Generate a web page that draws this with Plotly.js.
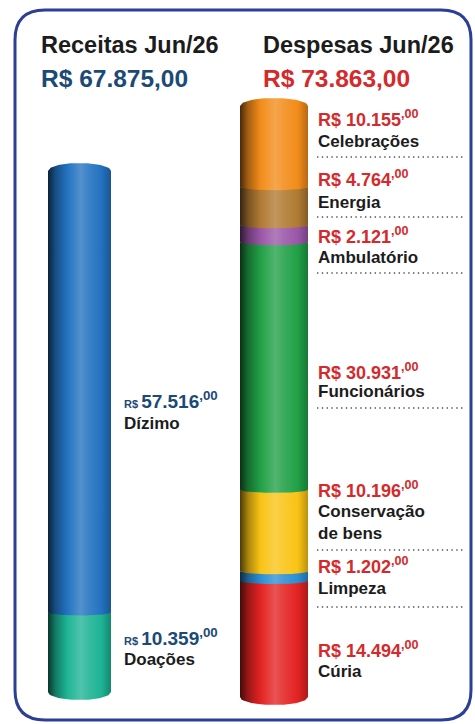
<!DOCTYPE html>
<html><head><meta charset="utf-8">
<script src="https://cdn.plot.ly/plotly-3.0.1.min.js"></script>
<style>html,body{margin:0;padding:0;background:#fff}</style>
</head><body><div id="chart" style="width:475px;height:724px"></div>
<script>
// ---------------- data ----------------
const receitasTitle = 'Receitas Jun/26';
const despesasTitle = 'Despesas Jun/26';
const receitasCats = ['Dízimo', 'Doações'];
const receitasVals = [57516, 10359];
const despesasCats = ['Celebrações', 'Energia', 'Ambulatório', 'Funcionários', 'Conservação<br>de bens', 'Limpeza', 'Cúria'];
const despesasVals = [10155, 4764, 2121, 30931, 10196, 1202, 14494];

// ---------------- styles ----------------
const receitasColors = ['#2272c0', '#1db394'];
const despesasColors = ['#f28c1a', '#b07a32', '#9b56a8', '#21a047', '#f9c315', '#2b8fd4', '#e32322'];
const W = 475, H = 724;
const BLUE = '#1b4a77', RED = '#d42a2c', INK = '#1c1c1c';
const SANS = 'Liberation Sans, Arial, sans-serif';

// label layout (pixel baselines)
const recAmountBase = [409, 646], recNameBase = [430, 666], recLabelX = 123;
const desAmountBase = [127, 187, 244, 380, 498, 574, 658];
const desNameBase = [148, 209, 264, 398, 540, 595, 678];
const desLabelX = 317;
const dottedY = [157, 217, 273, 408, 550, 607];

function fmt(v) { return String(v).replace(/\B(?=(\d{3})+(?!\d))/g, '.'); }
const sum = a => a.reduce((s, v) => s + v, 0);
const px = x => x / W, py = y => 1 - y / H;

function hex2rgb(h) { h = h.replace('#', ''); return [0, 2, 4].map(i => parseInt(h.substr(i, 2), 16)); }
function mix(h, t, a) {
  const c = hex2rgb(h), d = t === 'k' ? [0, 0, 0] : [255, 255, 255];
  return 'rgb(' + c.map((v, i) => Math.round(v * (1 - a) + d[i] * a)).join(',') + ')';
}
function shade(base) {
  return [[0, mix(base, 'k', 0.7)], [0.12, mix(base, 'k', 0.32)], [0.3, base],
          [0.52, mix(base, 'w', 0.22)], [0.64, mix(base, 'w', 0.12)], [0.85, base],
          [1, mix(base, 'k', 0.25)]];
}

// axis range so that value 0 sits at pixel p0 and total at pixel p1
function yRange(total, p0, p1) {
  const k = (p0 - p1) / total;
  const r0 = -(H - p0) / k;
  return { range: [r0, r0 + H / k], k };
}
function xRange(left, right) {
  const k = right - left;
  const r0 = -0.5 - left / k;
  return [r0, r0 + W / k];
}

function cylinder(vals, colors, names, xa, ya, k) {
  const n = vals.length, traces = [];
  let cum = 0;
  const segs = [];
  for (let i = n - 1; i >= 0; i--) { segs.push({ i, b: cum, t: cum + vals[i] }); cum += vals[i]; }
  const dome = 8 / k, sagB = 8 / k, sagI = 3 / k, N = 48;
  segs.forEach((s, j) => {
    const isTop = s.i === 0, isBottom = j === 0;
    const xs = [], ys = [];
    for (let m = 0; m <= N; m++) {
      const x = -0.5 + m / N, e = Math.sqrt(Math.max(0, 1 - 4 * x * x));
      xs.push(x); ys.push(isTop ? s.t + dome * e : s.t);
    }
    for (let m = N; m >= 0; m--) {
      const x = -0.5 + m / N, e = Math.sqrt(Math.max(0, 1 - 4 * x * x));
      xs.push(x); ys.push(s.b - (isBottom ? sagB : sagI) * e);
    }
    traces.push({
      type: 'scatter', x: xs, y: ys, xaxis: xa, yaxis: ya, mode: 'lines',
      line: { width: 0, color: colors[s.i] }, fill: 'toself', fillcolor: colors[s.i],
      fillgradient: { type: 'horizontal', colorscale: shade(colors[s.i]) },
      hoverinfo: 'skip', name: names[s.i].replace('<br>', ' ')
    });
  });
  return traces;
}

const recY = yRange(sum(receitasVals), 692, 171);
const desY = yRange(sum(despesasVals), 697, 106);

const data = [].concat(
  cylinder(receitasVals, receitasColors, receitasCats, 'x', 'y', recY.k),
  cylinder(despesasVals, despesasColors, despesasCats, 'x2', 'y2', desY.k)
);

const annotations = [];
function ann(text, xPx, basePx, size, color) {
  annotations.push({
    text, x: px(xPx), y: py(basePx + 0.212 * size), xref: 'paper', yref: 'paper',
    xanchor: 'left', yanchor: 'bottom', showarrow: false, borderpad: 0, align: 'left',
    font: { family: SANS, size, color, weight: 700 }
  });
}
// headers
ann(receitasTitle, 40, 54, 23.5, INK);
ann('R$ ' + fmt(sum(receitasVals)) + ',00', 40, 88, 24.5, BLUE);
ann(despesasTitle, 262, 54, 23.5, INK);
ann('R$ ' + fmt(sum(despesasVals)) + ',00', 262, 88, 24.5, RED);

receitasCats.forEach((c, i) => {
  ann('<span style="font-size:11px">R$ </span>' + fmt(receitasVals[i]) + '<sup>,00</sup>', recLabelX, recAmountBase[i], 19, BLUE);
  ann(c, recLabelX, recNameBase[i], 17, INK);
});
despesasCats.forEach((c, i) => {
  ann('R$ ' + fmt(despesasVals[i]) + '<sup>,00</sup>', desLabelX, desAmountBase[i], 18, RED);
  ann(c, desLabelX, desNameBase[i], 17, INK);
});

const shapes = dottedY.map(y => ({
  type: 'line', xref: 'paper', yref: 'paper', x0: px(317), x1: px(463), y0: py(y), y1: py(y),
  line: { color: '#555', width: 1.4, dash: '1.4px,3.4px' }
}));
// rounded frame
(function () {
  const x0 = 15, x1 = 471, y0 = 10, y1 = 720, r = 30;
  const P = (x, y) => px(x) + ',' + py(y);
  const path = 'M' + P(x0 + r, y0) + ' L' + P(x1 - r, y0) + ' Q' + P(x1, y0) + ' ' + P(x1, y0 + r) +
    ' L' + P(x1, y1 - r) + ' Q' + P(x1, y1) + ' ' + P(x1 - r, y1) + ' L' + P(x0 + r, y1) +
    ' Q' + P(x0, y1) + ' ' + P(x0, y1 - r) + ' L' + P(x0, y0 + r) + ' Q' + P(x0, y0) + ' ' + P(x0 + r, y0) + ' Z';
  shapes.push({ type: 'path', xref: 'paper', yref: 'paper', path, line: { color: '#2c3f94', width: 3 }, layer: 'below' });
})();

const hidden = { visible: false, fixedrange: true, showgrid: false, zeroline: false };
const layout = {
  width: W, height: H, margin: { l: 0, r: 0, t: 0, b: 0, pad: 0 },
  paper_bgcolor: '#ffffff', plot_bgcolor: 'rgba(0,0,0,0)', showlegend: false,
  xaxis: Object.assign({ domain: [0, 1], range: xRange(48, 111), anchor: 'y' }, hidden),
  yaxis: Object.assign({ domain: [0, 1], range: recY.range, anchor: 'x' }, hidden),
  xaxis2: Object.assign({ domain: [0, 1], range: xRange(240, 308), anchor: 'y2' }, hidden),
  yaxis2: Object.assign({ domain: [0, 1], range: desY.range, anchor: 'x2' }, hidden),
  annotations, shapes
};
Plotly.newPlot('chart', data, layout, { displayModeBar: false, staticPlot: true });
</script></body></html>
